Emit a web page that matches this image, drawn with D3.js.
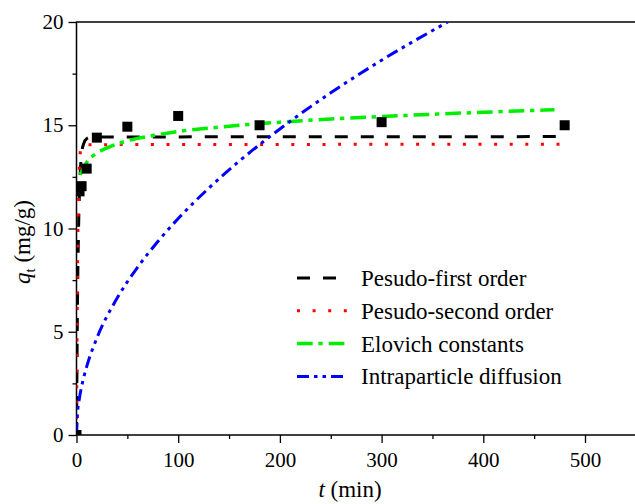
<!DOCTYPE html>
<html>
<head>
<meta charset="utf-8">
<script src="https://cdn.jsdelivr.net/npm/d3@7"></script>
<style>
  body { margin: 0; background: #fff; }
  svg { display: block; font-family: "Liberation Serif", "Times New Roman", serif; }
</style>
</head>
<body>
<div id="chart"></div>
<script>
// -----------------------------
// data
// -----------------------------
const expT = [0, 3, 5, 10, 20, 50, 100, 180, 300, 480]
const expQ = [0, 11.8, 12.05, 12.9, 14.4, 14.93, 15.45, 15.0, 15.15, 15.0]

const pfoT = [0, 0.5, 1, 2, 3, 4, 5, 7, 10, 15, 480]
const pfoQ = [0, 3.5, 6.5, 9.9, 11.9, 13.0, 13.6, 14.1, 14.35, 14.43, 14.45]

const psoT = [0, 0.5, 1, 2, 3, 4, 5, 10, 480]
const psoQ = [0, 4.5, 8.0, 11.5, 13.2, 13.8, 14.0, 14.06, 14.08]

const eloT = [3.5, 10, 20, 30, 50, 75, 100, 150, 200, 250, 300, 350, 400, 470]
const eloQ = [12.6, 13.2, 13.65, 13.9, 14.25, 14.5, 14.7, 14.95, 15.15, 15.3, 15.42, 15.53, 15.63, 15.75]

const ipdT = [0, 1, 3, 5, 10, 20, 40, 60, 80, 100, 130, 160, 200, 250, 300, 365]
const ipdQ = [0, 1.05, 1.82, 2.34, 3.31, 4.69, 6.63, 8.12, 9.37, 10.48, 11.95, 13.26, 14.82, 16.57, 18.15, 20.0]

const xTicks = [0, 100, 200, 300, 400, 500]
const yTicks = [0, 5, 10, 15, 20]

const seriesNames = ['Pesudo-first order', 'Pesudo-second order', 'Elovich constants', 'Intraparticle diffusion']

// -----------------------------
// layout
// -----------------------------
const W = 635, H = 504
const m = {left: 76.5, top: 22, bottom: 435}
m.right = m.left + 550 * 1.017

const x = d3.scaleLinear().domain([0, 550]).range([m.left, m.right])
const y = d3.scaleLinear().domain([0, 20]).range([m.bottom, m.top])

const svg = d3.select('#chart').append('svg')
    .attr('width', W).attr('height', H)

svg.append('defs').append('clipPath').attr('id', 'plot-clip')
    .append('rect')
    .attr('x', m.left).attr('y', m.top)
    .attr('width', m.right - m.left).attr('height', m.bottom - m.top)

// axes
const xAxis = d3.axisBottom(x)
    .tickValues(d3.range(0, 551, 50))
    .tickSize(0)
    .tickFormat(d => xTicks.includes(d) ? d : '')
const gx = svg.append('g')
    .attr('transform', 'translate(0,' + m.bottom + ')')
    .call(xAxis)
gx.select('.domain').remove()
gx.selectAll('.tick line')
    .attr('y2', d => xTicks.includes(d) ? 8 : 4)
    .attr('stroke', '#000').attr('stroke-width', 1.3)
gx.selectAll('.tick text')
    .attr('y', 17)
    .attr('font-size', 21)
    .attr('font-family', '"Liberation Serif", serif')
    .attr('fill', '#000')

const yAxis = d3.axisLeft(y)
    .tickValues(d3.range(0, 20.1, 2.5))
    .tickSize(0)
    .tickFormat(d => yTicks.includes(d) ? d : '')
const gy = svg.append('g')
    .attr('transform', 'translate(' + m.left + ',0)')
    .call(yAxis)
gy.select('.domain').remove()
gy.selectAll('.tick line')
    .attr('x2', d => yTicks.includes(d) ? -8 : -4)
    .attr('stroke', '#000').attr('stroke-width', 1.3)
gy.selectAll('.tick text')
    .attr('x', -13)
    .attr('font-size', 21)
    .attr('font-family', '"Liberation Serif", serif')
    .attr('fill', '#000')

// frame lines (left, bottom, top)
svg.append('path')
    .attr('d', `M${m.right},${m.top}H${m.left}V${m.bottom}H${m.right}`)
    .attr('fill', 'none').attr('stroke', '#000').attr('stroke-width', 1.5)

// axis titles
svg.append('text')
    .attr('x', 350).attr('y', 497)
    .attr('text-anchor', 'middle')
    .attr('font-size', 23)
    .html('<tspan font-style="italic">t</tspan> (min)')

svg.append('text')
    .attr('transform', 'translate(30,242) rotate(-90)')
    .attr('text-anchor', 'middle')
    .attr('font-size', 23)
    .html('<tspan font-style="italic">q</tspan><tspan font-size="15" dy="5">t</tspan><tspan dy="-5"> (mg/g)</tspan>')

// -----------------------------
// curves
// -----------------------------
const styles = [
    {t: pfoT, q: pfoQ, color: '#000', width: 3, dash: '13 13'},
    {t: psoT, q: psoQ, color: '#ff0000', width: 3, dash: '3 12.6'},
    {t: eloT, q: eloQ, color: '#00ee00', width: 3.5, dash: '15.7 5.7 4.3 6'},
    {t: ipdT, q: ipdQ, color: '#0000ff', width: 3, dash: '12 5 3.5 5 3.5 5'}
]

const line = d3.line()
    .x(d => x(d[0]))
    .y(d => y(d[1]))
    .curve(d3.curveMonotoneX)

const curves = svg.append('g').attr('clip-path', 'url(#plot-clip)')

styles.forEach(s => {
    curves.append('path')
        .datum(s.t.map((t, i) => [t, s.q[i]]))
        .attr('d', line)
        .attr('fill', 'none')
        .attr('stroke', s.color)
        .attr('stroke-width', s.width)
        .attr('stroke-dasharray', s.dash)
})

// experimental points
curves.selectAll('rect.point')
    .data(expT.map((t, i) => [t, expQ[i]]))
    .enter()
    .append('rect')
    .attr('class', 'point')
    .attr('x', d => x(d[0]) - 5)
    .attr('y', d => y(d[1]) - 5)
    .attr('width', 10).attr('height', 10)
    .attr('fill', '#000')

// -----------------------------
// legend
// -----------------------------
const legend = svg.append('g')
styles.forEach((s, i) => {
    const ly = 278 + i * 32.8
    legend.append('line')
        .attr('x1', 297).attr('x2', 348)
        .attr('y1', ly).attr('y2', ly)
        .attr('stroke', s.color)
        .attr('stroke-width', s.width)
        .attr('stroke-dasharray', s.dash)
    legend.append('text')
        .attr('x', 361).attr('y', ly + 8)
        .attr('font-size', 23)
        .text(seriesNames[i])
})
</script>
</body>
</html>
